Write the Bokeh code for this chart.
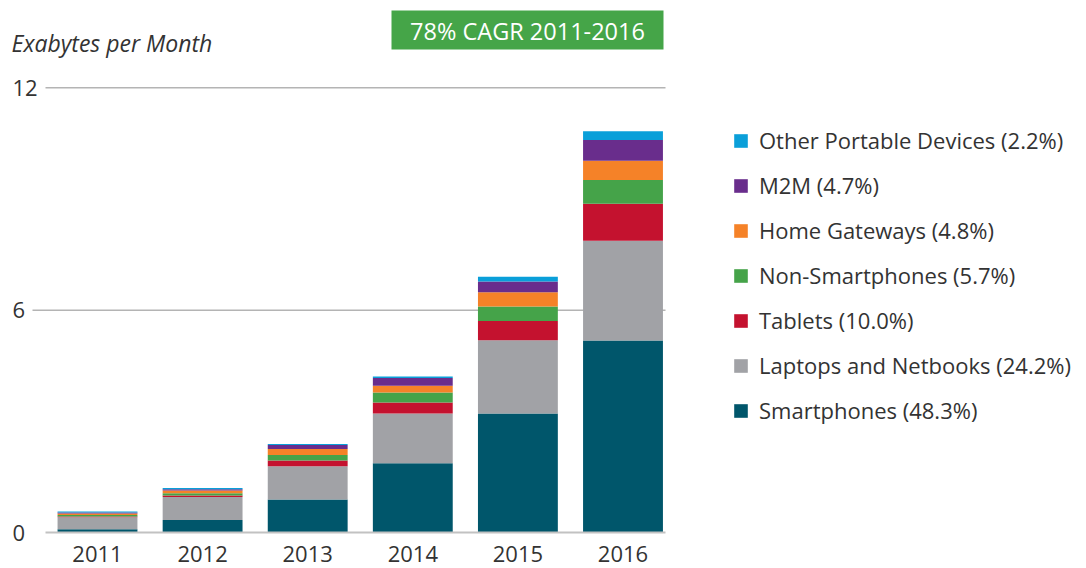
from bokeh.plotting import figure
from bokeh.models import (Range1d, Label, BoxAnnotation, Legend, LegendItem,
                          ColumnDataSource)
from bokeh.core.properties import value
from bokeh.embed import file_html
from bokeh.resources import INLINE

# ---------------- data ----------------
years = [2011, 2012, 2013, 2014, 2015, 2016]
smartphones = [0.09, 0.34, 0.89, 1.87, 3.21, 5.18]
laptops = [0.32, 0.62, 0.90, 1.34, 1.98, 2.69]
tablets = [0.02, 0.04, 0.15, 0.30, 0.52, 1.00]
non_smartphones = [0.04, 0.06, 0.15, 0.27, 0.39, 0.64]
home_gateways = [0.04, 0.07, 0.16, 0.18, 0.38, 0.52]
m2m = [0.03, 0.04, 0.11, 0.21, 0.29, 0.56]
other_portable = [0.03, 0.03, 0.03, 0.04, 0.13, 0.24]

series_keys = ["smartphones", "laptops", "tablets", "non_smartphones",
               "home_gateways", "m2m", "other_portable"]
series_labels = ["Smartphones (48.3%)", "Laptops and Netbooks (24.2%)",
                 "Tablets (10.0%)", "Non-Smartphones (5.7%)",
                 "Home Gateways (4.8%)", "M2M (4.7%)",
                 "Other Portable Devices (2.2%)"]
series_colors = ["#00566b", "#a1a2a6", "#c4122f", "#45a349",
                 "#f58228", "#692d8c", "#0a9fd9"]
y_ticks = [0, 6, 12]
y_title = "Exabytes per Month"
cagr_text = "78% CAGR 2011-2016"

# ---------------- layout constants (pixels) ----------------
W, H = 1086, 568
X0 = 97          # px centre of first year
PPX = 105.1      # px per year
Y0 = 532         # px of value 0
PPU = 37.06      # px per unit
PLOT_RIGHT = 665
x_start = years[0] - X0 / PPX
x_end = x_start + W / PPX
y_start = -(H - Y0) / PPU
y_end = Y0 / PPU


def px2x(cx):
    return x_start + cx / PPX


def px2y(cy):
    return (Y0 - cy) / PPU


FONT = "Open Sans"
TXT = "#333333"

p = figure(width=W, height=H, x_range=Range1d(x_start, x_end),
           y_range=Range1d(y_start, y_end), output_backend="svg",
           toolbar_location=None, min_border=0,
           x_axis_location=None, y_axis_location=None)
p.outline_line_color = None
p.grid.visible = False

src = ColumnDataSource(dict(
    year=years, smartphones=smartphones, laptops=laptops, tablets=tablets,
    non_smartphones=non_smartphones, home_gateways=home_gateways, m2m=m2m,
    other_portable=other_portable))

# grid lines (start just after their tick label)
grid_ticks = [t for t in y_ticks if t != 0]
grid_start_px = {6: 32, 12: 45}
p.segment(x0=[px2x(grid_start_px[t]) for t in grid_ticks],
          x1=[px2x(PLOT_RIGHT)] * len(grid_ticks),
          y0=grid_ticks, y1=grid_ticks, line_color="#b4b4b4", line_width=1.5)

renderers = p.vbar_stack(series_keys, x="year", width=0.76,
                         color=series_colors, line_color=None, source=src)

# baseline (x axis line)
p.segment(x0=[px2x(45)], x1=[px2x(PLOT_RIGHT)], y0=[0], y1=[0],
          line_color="#c2c2c2", line_width=2)

# x tick labels (years)
p.text(x=years, y=[0] * len(years), text=[str(y) for y in years],
       y_offset=21, text_align="center", text_baseline="middle",
       text_font=value(FONT), text_font_size="22px", text_color=TXT)

# y tick labels
p.text(x=[px2x(12)] * len(y_ticks), y=y_ticks, text=[str(t) for t in y_ticks],
       text_align="left", text_baseline="middle",
       text_font=value(FONT), text_font_size="22px", text_color=TXT)

# axis title
p.add_layout(Label(x=px2x(11), y=px2y(42), text=y_title, text_align="left",
                   text_baseline="middle", text_font=FONT,
                   text_font_style="italic", text_font_size="23px",
                   text_color=TXT))

# CAGR box
p.add_layout(BoxAnnotation(left=px2x(391), right=px2x(663), top=px2y(10),
                           bottom=px2y(49), fill_color="#45a548",
                           fill_alpha=1.0, line_color=None))
p.add_layout(Label(x=px2x(527), y=px2y(30), text=cagr_text,
                   text_align="center", text_baseline="middle",
                   text_font=FONT, text_font_size="23.5px",
                   text_color="white"))

# legend
items = [LegendItem(label=lab, renderers=[r])
         for lab, r in zip(series_labels, renderers)][::-1]
legend = Legend(items=items, location=(732, 143), orientation="vertical",
                glyph_width=17, glyph_height=17, label_height=30, spacing=15,
                padding=0, margin=0, border_line_color=None,
                background_fill_alpha=0, label_standoff=10,
                label_text_font=FONT, label_text_font_size="22px",
                label_text_color=TXT)
p.add_layout(legend)

open("out.html", "w").write(file_html(p, INLINE))
